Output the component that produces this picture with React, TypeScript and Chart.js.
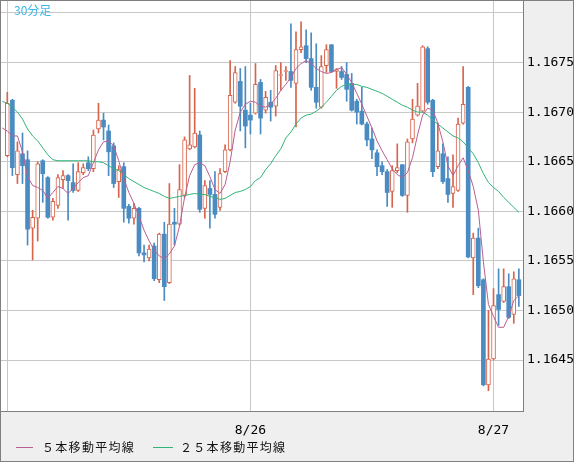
import { useEffect, useRef } from 'react';
import { Chart, registerables } from 'chart.js';

Chart.register(...registerables);

// 30分足 ローソク足 (8/25 00:00 から 1本 = 30分)
const opens = [
  1.16656, 1.16712, 1.16637, 1.16658, 1.16652, 1.16583, 1.16593, 1.16651, 1.16634, 1.16594,
  1.16606, 1.16632, 1.16636, 1.16629, 1.16621, 1.16639, 1.16649, 1.16643, 1.16683, 1.16692,
  1.16681, 1.16666, 1.16630, 1.16645, 1.16605, 1.16593, 1.16603, 1.16558, 1.16553, 1.16565,
  1.16531, 1.16577, 1.16528, 1.16589, 1.16587, 1.16616, 1.16663, 1.16665, 1.16677, 1.16603,
  1.16623, 1.16617, 1.16604, 1.16640, 1.16662, 1.16710, 1.16731, 1.16702, 1.16697, 1.16699,
  1.16730, 1.16702, 1.16710, 1.16706, 1.16737, 1.16741, 1.16741, 1.16729, 1.16763, 1.16767,
  1.16754, 1.16725, 1.16705, 1.16747, 1.16768, 1.16741, 1.16741, 1.16738, 1.16729, 1.16711,
  1.16701, 1.16688, 1.16673, 1.16659, 1.16646, 1.16640, 1.16620, 1.16641, 1.16647, 1.16616,
  1.16673, 1.16697, 1.16701, 1.16764, 1.16712, 1.16645, 1.16658, 1.16633, 1.16618, 1.16621,
  1.16689, 1.16725, 1.16553, 1.16573, 1.16531, 1.16425, 1.16451, 1.16516, 1.16509, 1.16524,
  1.16496, 1.16531,
];
const highs = [
  1.16720, 1.16713, 1.16670, 1.16679, 1.16661, 1.16601, 1.16650, 1.16652, 1.16635, 1.16613,
  1.16637, 1.16641, 1.16637, 1.16648, 1.16649, 1.16648, 1.16655, 1.16682, 1.16709, 1.16699,
  1.16687, 1.16669, 1.16646, 1.16649, 1.16607, 1.16608, 1.16604, 1.16566, 1.16566, 1.16568,
  1.16578, 1.16589, 1.16628, 1.16603, 1.16647, 1.16675, 1.16737, 1.16724, 1.16681, 1.16631,
  1.16631, 1.16640, 1.16643, 1.16667, 1.16752, 1.16746, 1.16744, 1.16746, 1.16709, 1.16749,
  1.16733, 1.16721, 1.16722, 1.16747, 1.16750, 1.16746, 1.16789, 1.16781, 1.16791, 1.16783,
  1.16780, 1.16769, 1.16757, 1.16768, 1.16768, 1.16744, 1.16746, 1.16750, 1.16739, 1.16713,
  1.16725, 1.16690, 1.16684, 1.16662, 1.16650, 1.16642, 1.16646, 1.16668, 1.16647, 1.16673,
  1.16713, 1.16729, 1.16767, 1.16766, 1.16713, 1.16689, 1.16668, 1.16655, 1.16657, 1.16694,
  1.16746, 1.16726, 1.16578, 1.16583, 1.16532, 1.16500, 1.16522, 1.16542, 1.16542, 1.16537,
  1.16539, 1.16542,
];
const lows = [
  1.16655, 1.16636, 1.16628, 1.16628, 1.16566, 1.16551, 1.16570, 1.16609, 1.16593, 1.16591,
  1.16603, 1.16623, 1.16591, 1.16619, 1.16620, 1.16637, 1.16641, 1.16640, 1.16679, 1.16672,
  1.16636, 1.16624, 1.16614, 1.16589, 1.16588, 1.16587, 1.16555, 1.16549, 1.16550, 1.16530,
  1.16528, 1.16510, 1.16527, 1.16566, 1.16586, 1.16614, 1.16662, 1.16664, 1.16599, 1.16593,
  1.16583, 1.16593, 1.16601, 1.16639, 1.16661, 1.16709, 1.16681, 1.16664, 1.16678, 1.16698,
  1.16678, 1.16699, 1.16691, 1.16696, 1.16722, 1.16732, 1.16725, 1.16685, 1.16760, 1.16750,
  1.16722, 1.16704, 1.16704, 1.16740, 1.16740, 1.16724, 1.16733, 1.16711, 1.16701, 1.16688,
  1.16687, 1.16666, 1.16653, 1.16636, 1.16637, 1.16605, 1.16604, 1.16639, 1.16615, 1.16599,
  1.16669, 1.16696, 1.16700, 1.16708, 1.16635, 1.16643, 1.16628, 1.16609, 1.16604, 1.16620,
  1.16688, 1.16553, 1.16516, 1.16523, 1.16424, 1.16419, 1.16450, 1.16485, 1.16508, 1.16492,
  1.16487, 1.16504,
];
const closes = [
  1.16709, 1.16644, 1.16661, 1.16646, 1.16582, 1.16594, 1.16648, 1.16638, 1.16594, 1.16610,
  1.16634, 1.16636, 1.16631, 1.16621, 1.16640, 1.16644, 1.16643, 1.16677, 1.16692, 1.16685,
  1.16660, 1.16628, 1.16642, 1.16603, 1.16593, 1.16603, 1.16558, 1.16556, 1.16562, 1.16532,
  1.16577, 1.16524, 1.16587, 1.16587, 1.16622, 1.16672, 1.16667, 1.16679, 1.16602, 1.16626,
  1.16617, 1.16597, 1.16638, 1.16662, 1.16717, 1.16740, 1.16706, 1.16686, 1.16692, 1.16728,
  1.16694, 1.16715, 1.16705, 1.16742, 1.16738, 1.16742, 1.16732, 1.16763, 1.16766, 1.16754,
  1.16725, 1.16710, 1.16746, 1.16763, 1.16741, 1.16743, 1.16735, 1.16723, 1.16702, 1.16700,
  1.16688, 1.16672, 1.16662, 1.16645, 1.16640, 1.16619, 1.16641, 1.16644, 1.16616, 1.16670,
  1.16693, 1.16706, 1.16766, 1.16710, 1.16640, 1.16661, 1.16630, 1.16617, 1.16625, 1.16688,
  1.16708, 1.16554, 1.16573, 1.16525, 1.16425, 1.16451, 1.16505, 1.16501, 1.16524, 1.16493,
  1.16532, 1.16515,
];

// ５本移動平均線 / ２５本移動平均線, first value is one bar left of the first candle
const maStartIndex = -1;
const ma5 = [
  1.16684,
  1.16681, 1.16676, 1.16676, 1.16660, 1.16635, 1.16626, 1.16624, 1.16621, 1.16613, 1.16619,
  1.16625, 1.16623, 1.16618, 1.16623, 1.16629, 1.16634, 1.16636, 1.16649, 1.16662, 1.16670,
  1.16671, 1.16666, 1.16651, 1.16633, 1.16619, 1.16608, 1.16595, 1.16581, 1.16570, 1.16561,
  1.16555, 1.16552, 1.16557, 1.16565, 1.16585, 1.16614, 1.16636, 1.16647, 1.16649, 1.16646,
  1.16635, 1.16622, 1.16618, 1.16627, 1.16650, 1.16682, 1.16700, 1.16708, 1.16711, 1.16710,
  1.16706, 1.16705, 1.16708, 1.16714, 1.16722, 1.16728, 1.16735, 1.16744, 1.16749, 1.16752,
  1.16749, 1.16744, 1.16741, 1.16739, 1.16740, 1.16743, 1.16745, 1.16738, 1.16730, 1.16719,
  1.16708, 1.16696, 1.16684, 1.16671, 1.16661, 1.16652, 1.16643, 1.16637, 1.16634, 1.16639,
  1.16654, 1.16677, 1.16697, 1.16704, 1.16702, 1.16689, 1.16670, 1.16646, 1.16636, 1.16646,
  1.16654, 1.16641, 1.16625, 1.16601, 1.16549, 1.16506, 1.16494, 1.16483, 1.16483, 1.16494,
  1.16510, 1.16515,
];
const ma25 = [
  1.16711,
  1.16709, 1.16705, 1.16700, 1.16693, 1.16683, 1.16676, 1.16671, 1.16664, 1.16657, 1.16652,
  1.16651, 1.16651, 1.16651, 1.16651, 1.16651, 1.16651, 1.16651, 1.16650, 1.16650, 1.16649,
  1.16646, 1.16643, 1.16641, 1.16637, 1.16633, 1.16630, 1.16627, 1.16624, 1.16622, 1.16620,
  1.16618, 1.16615, 1.16613, 1.16614, 1.16615, 1.16616, 1.16617, 1.16618, 1.16617, 1.16617,
  1.16615, 1.16614, 1.16612, 1.16613, 1.16616, 1.16619, 1.16620, 1.16622, 1.16625, 1.16631,
  1.16634, 1.16642, 1.16648, 1.16656, 1.16663, 1.16674, 1.16680, 1.16688, 1.16694, 1.16697,
  1.16698, 1.16701, 1.16705, 1.16710, 1.16716, 1.16722, 1.16726, 1.16728, 1.16728, 1.16728,
  1.16726, 1.16725, 1.16723, 1.16721, 1.16719, 1.16716, 1.16713, 1.16710, 1.16707, 1.16705,
  1.16702, 1.16700, 1.16700, 1.16697, 1.16692, 1.16688, 1.16684, 1.16680, 1.16676, 1.16674,
  1.16670, 1.16664, 1.16658, 1.16649, 1.16638, 1.16629, 1.16624, 1.16620, 1.16614, 1.16609,
  1.16604, 1.16599,
];

// x axis: day boundaries (bar index) and their labels
const dayTickIndex = [0, 48, 96];
const dayTickLabels = ['', '8/26', '8/27'];

// y axis: grid values and labels (top grid line has no label)
const priceTicks = [1.1645, 1.165, 1.1655, 1.166, 1.1665, 1.167, 1.1675, 1.168];
const priceTickLabels = ['1.1645', '1.1650', '1.1655', '1.1660', '1.1665', '1.1670', '1.1675', ''];

const UP = '#d7644b';
const DOWN = '#4a8bc2';
const MA5_COLOR = '#b95f91';
const MA25_COLOR = '#32b478';
const GRID = '#c8c8c8';
const FRAME = '#7f7f7f';

const frame = {
  id: 'frame',
  beforeDraw(chart: any) {
    const { ctx, chartArea: a, width, height } = chart;
    ctx.save();
    ctx.fillStyle = '#efefef';
    ctx.fillRect(0, 0, width, height);
    ctx.fillStyle = '#ffffff';
    ctx.fillRect(a.left, a.top, a.right - a.left, a.bottom - a.top);
    ctx.restore();
  },
  afterDraw(chart: any) {
    const { ctx, chartArea: a, width, height } = chart;
    ctx.save();
    ctx.strokeStyle = FRAME;
    ctx.lineWidth = 1;
    ctx.strokeRect(0.5, 0.5, width - 1, height - 1);
    ctx.beginPath();
    ctx.moveTo(a.right + 0.5, 0);
    ctx.lineTo(a.right + 0.5, a.bottom + 1);
    ctx.moveTo(0, a.bottom + 0.5);
    ctx.lineTo(a.right + 1, a.bottom + 0.5);
    ctx.stroke();
    ctx.restore();
  },
};

function LegendItem({ x, lineW, textX, color, label }: { x: number; lineW: number; textX: number; color: string; label: string }) {
  return (
    <>
      <div style={{ position: 'absolute', left: x, top: 447, width: lineW, height: 1, background: color }} />
      <div
        style={{
          position: 'absolute',
          left: textX,
          top: 440,
          fontFamily: '"Noto Sans CJK JP", sans-serif',
          fontSize: 12,
          lineHeight: '14px',
          letterSpacing: '1.3px',
          color: '#111',
          whiteSpace: 'nowrap',
        }}
      >
        {label}
      </div>
    </>
  );
}

export default function App() {
  const canvasRef = useRef<HTMLCanvasElement>(null);

  useEffect(() => {
    if (!canvasRef.current) return;

    const isUp = opens.map((o, i) => closes[i] >= o);
    const wickData = opens.map((_, i) => ({ x: i, y: [lows[i], highs[i]] }));
    const bodyData = opens.map((o, i) => ({ x: i, y: [o, closes[i]] }));

    const chart = new Chart(canvasRef.current, {
      type: 'bar',
      data: {
        datasets: [
          {
            type: 'line',
            label: '５本移動平均線',
            data: ma5.map((v, i) => ({ x: i + maStartIndex, y: v })),
            borderColor: MA5_COLOR,
            borderWidth: 1,
            pointRadius: 0,
            tension: 0,
            fill: false,
            order: 0,
          },
          {
            type: 'line',
            label: '２５本移動平均線',
            data: ma25.map((v, i) => ({ x: i + maStartIndex, y: v })),
            borderColor: MA25_COLOR,
            borderWidth: 1,
            pointRadius: 0,
            tension: 0,
            fill: false,
            order: 0,
          },
          {
            label: 'body',
            data: bodyData as any,
            backgroundColor: isUp.map((u) => (u ? '#ffffff' : DOWN)),
            borderColor: isUp.map((u) => (u ? UP : DOWN)),
            borderWidth: isUp.map((u) => (u ? 1 : 0)),
            borderSkipped: false,
            barThickness: 4,
            minBarLength: 1,
            grouped: false,
            order: 1,
          },
          {
            label: 'wick',
            data: wickData as any,
            backgroundColor: isUp.map((u) => (u ? UP : DOWN)),
            borderWidth: 0,
            barThickness: 1,
            grouped: false,
            order: 2,
          },
        ],
      },
      options: {
        animation: false,
        responsive: false,
        events: [],
        layout: { padding: { top: 1, left: 1, right: 0, bottom: 0 } },
        plugins: {
          legend: { display: false },
          tooltip: { enabled: false },
        },
        scales: {
          x: {
            type: 'linear',
            position: 'bottom',
            offset: false,
            min: -1.244,
            max: 101.82,
            grid: { color: GRID, lineWidth: 1, drawTicks: false, offset: false },
            border: { display: false },
            afterBuildTicks: (scale: any) => {
              scale.ticks = dayTickIndex.map((v) => ({ value: v }));
            },
            afterFit: (scale: any) => {
              scale.height = 51;
              scale.paddingLeft = 0;
              scale.paddingRight = 0;
            },
            ticks: {
              autoSkip: false,
              maxRotation: 0,
              padding: 12,
              color: '#000',
              font: { family: '"DejaVu Sans Mono", monospace', size: 13 },
              callback: (value: any) => {
                const k = dayTickIndex.indexOf(Number(value));
                return k >= 0 ? dayTickLabels[k] : '';
              },
            },
          },
          y: {
            type: 'linear',
            position: 'right',
            min: 1.163986,
            max: 1.168121,
            grid: { color: GRID, lineWidth: 1, drawTicks: false },
            border: { display: false },
            afterBuildTicks: (scale: any) => {
              scale.ticks = priceTicks.map((v) => ({ value: v }));
            },
            afterFit: (scale: any) => {
              scale.width = 51;
              scale.paddingTop = 0;
              scale.paddingBottom = 0;
            },
            ticks: {
              autoSkip: false,
              padding: 4,
              color: '#000',
              font: { family: '"DejaVu Sans Mono", monospace', size: 13 },
              callback: (value: any) => {
                const k = priceTicks.findIndex((v) => Math.abs(v - Number(value)) < 1e-9);
                return k >= 0 ? priceTickLabels[k] : '';
              },
            },
          },
        },
      },
      plugins: [frame],
    });

    return () => {
      chart.destroy();
    };
  }, []);

  return (
    <div style={{ position: 'absolute', left: 0, top: 0, width: 574, height: 462, background: '#efefef', overflow: 'hidden' }}>
      <canvas ref={canvasRef} width={574} height={462} style={{ display: 'block', width: 574, height: 462 }} />
      <div
        style={{
          position: 'absolute',
          left: 14,
          top: 3,
          fontFamily: '"Noto Sans CJK JP", sans-serif',
          fontSize: 12,
          lineHeight: '14px',
          color: '#3db5e6',
        }}
      >
        30分足
      </div>
      <LegendItem x={16} lineW={17} textX={42} color={MA5_COLOR} label="５本移動平均線" />
      <LegendItem x={153} lineW={20} textX={180} color={MA25_COLOR} label="２５本移動平均線" />
    </div>
  );
}
